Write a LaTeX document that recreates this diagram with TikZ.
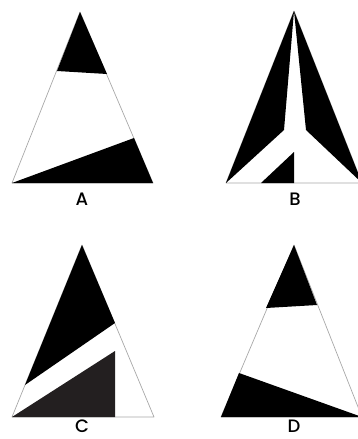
\documentclass[tikz,border=0pt]{standalone}
\usepackage{fontspec}
\setmainfont{Poppins}
\newfontfamily\lblfont{Poppins Medium}
\definecolor{edgegray}{HTML}{A8A8A8}
\definecolor{darkfill}{HTML}{231F20}
\begin{document}
\begin{tikzpicture}[x=1pt,y=-1pt,
  outline/.style={draw=edgegray,line width=0.7pt,line join=round},
  blk/.style={fill=black},
  dgr/.style={fill=darkfill},
  lbl/.style={font=\lblfont\fontsize{18}{18}\selectfont,inner sep=0pt,anchor=center}]
\useasboundingbox (0,0) rectangle (358,439);
\clip (0,0) rectangle (358,439);
% ---------- A ----------
\coordinate (aT) at (80,12);
\coordinate (aL) at (12,183);
\coordinate (aR) at (153,183);
\draw[outline] (aT) -- (aL) -- (aR) -- cycle;
\fill[blk] (aT) -- (57,71) -- (107,74) -- cycle;
\fill[blk] (aL) -- (134,138) -- (aR) -- cycle;
\node[lbl] (la) at (82,199) {A};
% ---------- B ----------
\coordinate (bT) at (294,11);
\coordinate (bL) at (226,183);
\coordinate (bR) at (362,183);
\draw[outline] (bT) -- (bL) -- (bR) -- cycle;
\fill[blk] (bT) -- (bL) -- (284,130) -- cycle;
\fill[blk] (bT) -- (bR) -- (306,130) -- cycle;
\fill[blk] (261,183) -- (294,152) -- (294,183) -- cycle;
\node[lbl] (lb) at (295,199) {B};
% ---------- C ----------
\coordinate (cT) at (82,245);
\coordinate (cL) at (12,417);
\coordinate (cR) at (154,417);
\draw[outline] (cT) -- (cL) -- (cR) -- cycle;
\fill[blk] (cT) -- (25,385) -- (115,323) -- cycle;
\fill[dgr] (cL) -- (115,351) -- (115,417) -- cycle;
\node[lbl] (lc) at (82,426) {C};
% ---------- D ----------
\coordinate (dT) at (294,245);
\coordinate (dL) at (221,417);
\coordinate (dR) at (362,417);
\draw[outline] (dT) -- (dL) -- (dR) -- cycle;
\fill[blk] (dT) -- (266,308) -- (317,305) -- cycle;
\fill[blk] (239,373) -- (dL) -- (dR) -- cycle;
\node[lbl] (ld) at (294,426) {D};
\end{tikzpicture}
\end{document}
